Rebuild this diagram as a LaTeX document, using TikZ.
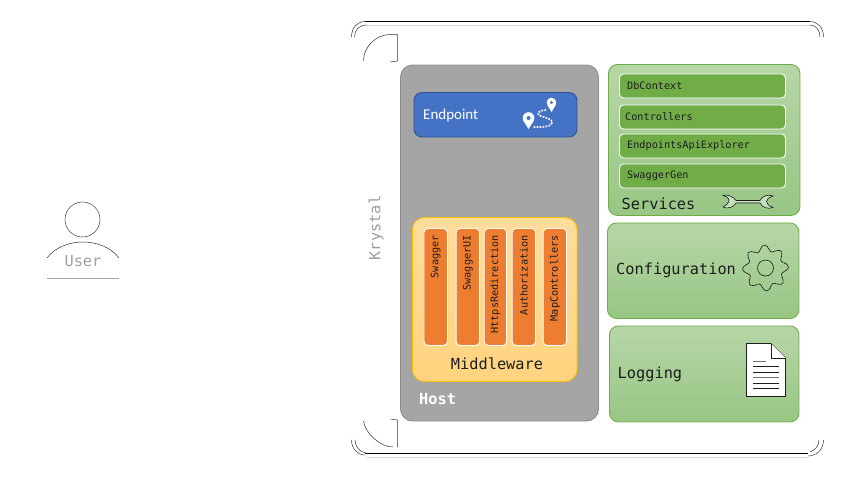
\documentclass[tikz,border=0pt]{standalone}
\usepackage{fontspec}
\setmainfont{Carlito}
\setmonofont{DejaVu Sans Mono}
\usetikzlibrary{calc}
\definecolor{hostfill}{HTML}{A5A5A5}
\definecolor{hostline}{HTML}{8E8E8E}
\definecolor{epfill}{HTML}{4472C4}
\definecolor{epline}{HTML}{2F528F}
\definecolor{grn}{HTML}{70AD47}
\definecolor{grntop}{HTML}{B7D6A7}
\definecolor{grnbot}{HTML}{98C684}
\definecolor{midtop}{HTML}{FFDC9A}
\definecolor{midbot}{HTML}{FFD47F}
\definecolor{midline}{HTML}{FFC000}
\definecolor{org}{HTML}{ED7D31}
\definecolor{ink}{HTML}{1E1E1E}
\tikzset{
  panel/.style={draw=grn,line width=0.9pt,rounded corners=9pt,top color=grntop,bottom color=grnbot,anchor=north west,inner sep=0pt},
  svcbox/.style={draw=white,line width=0.9pt,fill=grn,rounded corners=4pt,anchor=north west,inner sep=0pt,minimum width=166pt,minimum height=24pt},
  svctext/.style={font=\ttfamily\fontsize{10.2}{12}\selectfont,text=ink,anchor=west,inner sep=0pt},
  mwbox/.style={draw=white,line width=0.9pt,fill=org,rounded corners=4pt,anchor=north west,inner sep=0pt,minimum height=117pt},
  mwtext/.style={font=\ttfamily\fontsize{10.2}{12}\selectfont,text=ink,rotate=90,anchor=east,inner sep=0pt},
  bigtext/.style={font=\ttfamily\fontsize{15.3}{18}\selectfont,text=ink,anchor=west,inner sep=0pt},
  paletext/.style={font=\ttfamily\fontsize{15.3}{18}\selectfont,text=black!38,inner sep=0pt},
  frameline/.style={black,line width=0.8pt},
  framelight/.style={black!15,line width=0.7pt},
  thin frame/.style={black!80,line width=0.5pt},
  pin/.style={fill=white,draw=none},
  routedots/.style={white,line width=1.7pt,dash pattern=on 1.7pt off 1.3pt},
}
\begin{document}
\begin{tikzpicture}[x=1pt,y=-1pt]
\useasboundingbox (0,0) rectangle (853,480);
% User
\coordinate (userc) at (82.5,219.5);
\draw[black!75,line width=0.5pt] (userc) circle (17.5);
\coordinate (shoulderL) at (47,258);
\coordinate (shoulderR) at (119,258);
\draw[black!80,line width=0.5pt] (shoulderL) .. controls (55,247) and (70,242) .. (83,242) .. controls (96,242) and (111,247) .. (shoulderR);
\node[paletext] (user) at (83,261) {User};
\coordinate (ubarL) at (47,278);
\coordinate (ubarR) at (119,278);
\draw[black!35,line width=0.7pt] (ubarL) -- (ubarR);
% Outer frame
\draw[frameline] (365,21.5) -- (810,21.5);
\draw[framelight] (367,25) -- (810,25);
\draw[frameline] (365,453.5) -- (808,453.5);
\draw[framelight] (367,457) -- (808,457);
\draw[thin frame] (351.5,37) .. controls (351.5,28) and (357,21.5) .. (365,21.5);
\draw[thin frame] (354.5,37) .. controls (354.5,30) and (359,25) .. (367,25);
\draw[thin frame] (810,21.5) .. controls (818,21.5) and (823.5,28) .. (823.5,37);
\draw[thin frame] (810,25) .. controls (816,25) and (820,30) .. (820,37);
\draw[thin frame] (351.5,440) .. controls (351.5,448) and (357,455) .. (365,455);
\draw[thin frame] (355,440) .. controls (355,446) and (359,452) .. (366,453);
\draw[thin frame] (808,456) .. controls (816,456) and (823.5,450) .. (823.5,440);
\draw[thin frame] (810,452) .. controls (815,450) and (819,446) .. (819,440);
% Inner corner marks
\draw[thin frame] (363.5,60.5) .. controls (363.5,47) and (376,34.5) .. (390,34.5) -- (397.5,34.5) -- (397.5,61) -- (390,62);
\draw[thin frame] (363.5,421) .. controls (365,433) and (380,447) .. (393,447) (397.5,447) -- (397.5,420) -- (390.5,419);
\node[paletext,rotate=90] (krystal) at (376,228) {Krystal};
% Host
\draw[draw=hostline,line width=0.9pt,fill=hostfill,rounded corners=12pt] (400.5,65) rectangle (598.5,421);
\node[font=\ttfamily\bfseries\fontsize{15.3}{18}\selectfont,text=white,anchor=west,inner sep=0pt] (host) at (419,399) {Host};
% Endpoint
\draw[draw=epline,line width=0.9pt,fill=epfill,rounded corners=8pt] (414,92.5) rectangle (577,137);
\node[font=\fontsize{15}{18}\selectfont,text=white,anchor=west,inner sep=0pt] (endpoint) at (423,115) {Endpoint};
\draw[routedots] (546,110) .. controls (539,110.5) and (537,113) .. (539,115.5) .. controls (545,117.5) and (553,119) .. (552,123) .. controls (550,127.5) and (542,127) .. (533,127);
\fill[pin] (551.5,102.5) circle (4.8);
\fill[pin] (547,104.5) -- (551.5,112) -- (556,104.5) -- cycle;
\fill[epfill] (551.5,102.5) circle (1.6);
\fill[pin] (528.5,118) circle (5.8);
\fill[pin] (523.2,120.5) -- (528.5,129) -- (533.8,120.5) -- cycle;
\fill[epfill] (528.5,118) circle (2);
% Middleware
\draw[draw=midline,line width=0.9pt,top color=midtop,bottom color=midbot,rounded corners=12pt] (412.5,217.5) rectangle (577,381.5);
\node[mwbox,minimum width=23.5pt] (mw1) at (423.5,228) {};
\node[mwbox,minimum width=23.5pt] (mw2) at (455.7,228) {};
\node[mwbox,minimum width=22.5pt] (mw3) at (483.7,228) {};
\node[mwbox,minimum width=23.5pt] (mw4) at (511.7,228) {};
\node[mwbox,minimum width=23.5pt] (mw5) at (542.7,228) {};
\node[mwtext] at ($(mw1.north)+(0,7)$) {Swagger};
\node[mwtext] at ($(mw2.north)+(0,7)$) {SwaggerUI};
\node[mwtext] at ($(mw3.north)+(0,7)$) {HttpsRedirection};
\node[mwtext] at ($(mw4.north)+(0,7)$) {Authorization};
\node[mwtext] at ($(mw5.north)+(0,7)$) {MapControllers};
\node[bigtext,anchor=center] (middleware) at (497,364) {Middleware};
% Services
\node[panel,minimum width=191.5pt,minimum height=151pt] (services) at (608,64) {};
\node[svcbox] (db) at (619,73.5) {};
\node[svcbox] (ctl) at (619,104.5) {};
\node[svcbox] (api) at (619,133.5) {};
\node[svcbox] (gen) at (619,163.5) {};
\node[svctext] at (627,85.5) {DbContext};
\node[svctext] at (625,116.5) {Controllers};
\node[svctext] at (627,145.5) {EndpointsApiExplorer};
\node[svctext] at (627,175.5) {SwaggerGen};
\node[bigtext] (servicesl) at (621.5,203.5) {Services};
% Wrench
\draw[ink,line width=0.6pt,fill=white!45!grnbot]
  (731,196.5) .. controls (727,194.5) and (724,195) .. (723,195.5)
  .. controls (728,197) and (729.5,199) .. (729,201)
  .. controls (728.5,203.5) and (726,205.5) .. (723,207)
  .. controls (727,209) and (733,208) .. (736,203)
  -- (760,203)
  .. controls (762,207.5) and (768,209.5) .. (773,207.5)
  .. controls (769,206) and (766.5,204) .. (766.5,201.5)
  .. controls (766.5,199) and (769,197.5) .. (773,196)
  .. controls (768,194) and (762,196) .. (760,200.5)
  -- (736,200.5) .. controls (735,198.5) and (733,197.5) .. (731,196.5) -- cycle;
% Configuration
\node[panel,minimum width=191.5pt,minimum height=95.5pt] (config) at (607,222.5) {};
\node[bigtext] (configl) at (616,270) {Configuration};
\coordinate (gearc) at (765.5,268);
\draw[ink,line width=0.7pt,dash pattern=on 2.4pt off 0.5pt] plot[smooth cycle,samples=64,domain=0:354.375,variable=\a] ({765.5+(20+3*cos(8*\a+22.5))*cos(\a)},{268+(20+3*cos(8*\a+22.5))*sin(\a)});
\draw[ink,line width=0.7pt,dash pattern=on 2.4pt off 0.5pt] (gearc) circle (8);
% Logging
\node[panel,minimum width=189.5pt,minimum height=96pt] (logging) at (609,325.5) {};
\node[bigtext] (loggingl) at (617.5,374) {Logging};
\draw[ink,line width=0.8pt,fill=white] (746.5,343.5) -- (771,343.5) -- (785.5,358) -- (785.5,396.5) -- (746.5,396.5) -- cycle;
\draw[ink,line width=0.6pt,fill=white] (771,343.5) -- (771,358) -- (785.5,358);
\draw[black!55,line width=0.7pt] (753,361) -- (766,361);
\draw[ink,line width=1pt] (753,366.5) -- (779,366.5);
\draw[ink,line width=1pt] (753,372) -- (779,372);
\draw[black!55,line width=0.7pt] (753,377.5) -- (779,377.5);
\draw[ink,line width=1pt] (753,383) -- (779,383);
\draw[ink,line width=1pt] (753,388.5) -- (779,388.5);
\end{tikzpicture}
\end{document}
